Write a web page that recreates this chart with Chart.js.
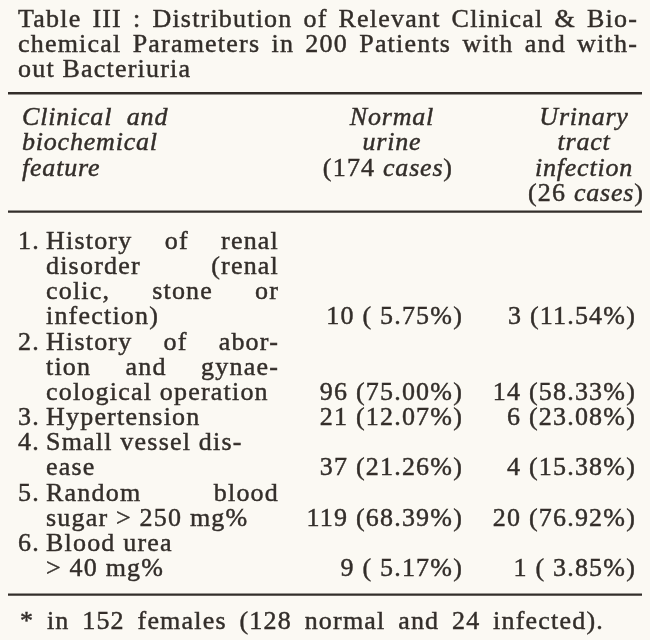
<!DOCTYPE html>
<html>
<head>
<meta charset="utf-8">
<script src="https://cdn.jsdelivr.net/npm/chart.js@4/dist/chart.umd.min.js"></script>
<style>
  html, body { margin: 0; padding: 0; background: #fbf9f3; }
  #tableChart { display: block; }
</style>
</head>
<body>
<canvas id="tableChart" width="650" height="640"></canvas>
<script>
// table text and values
const titleLines = [
    'Table III : Distribution of Relevant Clinical & Bio-',
    'chemical Parameters in 200 Patients with and with-',
    'out Bacteriuria',
];
const headFeature = ['Clinical  and', 'biochemical', 'feature'];
const headNormal = ['Normal', 'urine', '(174 cases)'];
const headUti = ['Urinary', 'tract', 'infection', '(26 cases)'];

const featureNo = ['1.', '2.', '3.', '4.', '5.', '6.'];
const featureLines = [
    ['History of renal', 'disorder (renal', 'colic, stone or', 'infection)'],
    ['History of abor-', 'tion and gynae-', 'cological operation'],
    ['Hypertension'],
    ['Small vessel dis-', 'ease'],
    ['Random blood', 'sugar > 250 mg%'],
    ['Blood urea', '> 40 mg%'],
];
const justifyRow = [true, true, false, false, true, false];

const normalCases = [10, 96, 21, 37, 119, 9];
const normalPct = [5.75, 75.00, 12.07, 21.26, 68.39, 5.17];
const utiCases = [3, 14, 6, 4, 20, 1];
const utiPct = [11.54, 58.33, 23.08, 15.38, 76.92, 3.85];

const footnote = '* in 152 females (128 normal and 24 infected).';

// layout (in line units on y, pixels on x)
const ink = '#332e2a';
const fontSize = 26;
const bodyStart = 8.8;
const col = { left: 18, noRight: 40, text: 46, textRight: 279, normal: 463, uti: 636, normalHead: 392, utiHead: 584, right: 640 };

// line index of the last text line of each row (where the values sit)
const rowEnd = [];
let acc = bodyStart;
featureLines.forEach(lines => {
    acc += lines.length;
    rowEnd.push(acc - 1);
});

function fmtCell(n, p) {
    const s = p.toFixed(2);
    return n + ' (' + (p < 10 ? ' ' : '') + s + '%)';
}

function setFont(ctx, italic) {
    ctx.font = (italic ? 'italic ' : '') + fontSize + 'px "Liberation Serif", "Times New Roman", serif';
    ctx.letterSpacing = italic ? '0.8px' : '1.2px';
}

// fill plus a hairline stroke, the scan's ink is heavy
function ink_text(ctx, t, x, y) {
    ctx.fillText(t, x, y);
    ctx.strokeText(t, x, y);
}

function drawJustified(ctx, text, x0, x1, y) {
    const words = text.split(/\s+/);
    const widths = words.map(w => ctx.measureText(w).width);
    const total = widths.reduce((a, b) => a + b, 0);
    const gap = (x1 - x0 - total) / (words.length - 1);
    let x = x0;
    ctx.textAlign = 'left';
    words.forEach((w, i) => {
        ink_text(ctx, w, x, y);
        x += widths[i] + gap;
    });
}

// draws "(174 cases)" with cases in italic
function drawCases(ctx, text, cx, y) {
    const m = text.match(/^\((\d+) (cases)\)$/);
    const segs = [['(' + m[1] + ' ', false], [m[2], true], [')', false]];
    let w = 0;
    segs.forEach(s => { setFont(ctx, s[1]); w += ctx.measureText(s[0]).width; });
    let x = cx - w / 2;
    ctx.textAlign = 'left';
    segs.forEach(s => {
        setFont(ctx, s[1]);
        ink_text(ctx, s[0], x, y);
        x += ctx.measureText(s[0]).width;
    });
}

const tablePlugin = {
    id: 'tableText',
    afterDatasetsDraw(chart) {
        const ctx = chart.ctx;
        const xs = chart.scales.x;
        const ys = chart.scales.y;
        const X = v => xs.getPixelForValue(v);
        const Y = v => ys.getPixelForValue(v);
        ctx.save();
        ctx.fillStyle = ink;
        ctx.strokeStyle = ink;
        ctx.textBaseline = 'middle';

        // rules
        [2.9, 7.6, 22.8].forEach(r => {
            ctx.lineWidth = 2.4;
            ctx.beginPath();
            ctx.moveTo(X(8), Y(r));
            ctx.lineTo(X(642), Y(r));
            ctx.stroke();
        });
        ctx.lineWidth = 0.45;

        // title
        setFont(ctx, false);
        titleLines.forEach((t, i) => {
            if (i < titleLines.length - 1) drawJustified(ctx, t, X(col.left), X(col.right - 2), Y(i));
            else { ctx.textAlign = 'left'; ink_text(ctx, t, X(col.left), Y(i)); }
        });

        // header
        setFont(ctx, true);
        ctx.textAlign = 'left';
        headFeature.forEach((t, i) => ink_text(ctx, t, X(col.left + 4), Y(3.9 + i)));
        headNormal.forEach((t, i) => {
            if (t.startsWith('(')) drawCases(ctx, t, X(col.normalHead - 4), Y(3.9 + i));
            else { setFont(ctx, true); ctx.textAlign = 'center'; ink_text(ctx, t, X(col.normalHead), Y(3.9 + i)); }
        });
        headUti.forEach((t, i) => {
            if (t.startsWith('(')) drawCases(ctx, t, X(col.utiHead + 2), Y(3.9 + i));
            else { setFont(ctx, true); ctx.textAlign = 'center'; ink_text(ctx, t, X(col.utiHead), Y(3.9 + i)); }
        });

        // feature column
        setFont(ctx, false);
        let line = bodyStart;
        featureLines.forEach((lines, r) => {
            ctx.textAlign = 'right';
            ink_text(ctx, featureNo[r], X(col.noRight), Y(line));
            lines.forEach((t, k) => {
                if (justifyRow[r] && k < lines.length - 1) drawJustified(ctx, t, X(col.text), X(col.textRight), Y(line + k));
                else { ctx.textAlign = 'left'; ink_text(ctx, t, X(col.text), Y(line + k)); }
            });
            line += lines.length;
        });

        // value cells, drawn at the scatter points
        ctx.textAlign = 'right';
        chart.data.datasets.forEach((ds, di) => {
            chart.getDatasetMeta(di).data.forEach((pt, i) => {
                ink_text(ctx, ds.cellText[i], pt.x, pt.y);
            });
        });

        // footnote
        ctx.textAlign = 'left';
        ctx.wordSpacing = '5px';
        ink_text(ctx, footnote, X(col.left + 2), Y(23.9));
        ctx.restore();
    }
};

new Chart(document.getElementById('tableChart'), {
    type: 'scatter',
    data: {
        datasets: [
            {
                label: 'Normal urine (174 cases)',
                data: normalCases.map((n, i) => ({ x: col.normal, y: rowEnd[i] })),
                cellText: normalCases.map((n, i) => fmtCell(n, normalPct[i])),
                pointRadius: 0,
            },
            {
                label: 'Urinary tract infection (26 cases)',
                data: utiCases.map((n, i) => ({ x: col.uti, y: rowEnd[i] })),
                cellText: utiCases.map((n, i) => fmtCell(n, utiPct[i])),
                pointRadius: 0,
            },
        ],
    },
    options: {
        responsive: false,
        animation: false,
        layout: { padding: 0 },
        plugins: { legend: { display: false }, tooltip: { enabled: false } },
        scales: {
            x: { type: 'linear', display: false, min: 0, max: 650 },
            y: { type: 'linear', display: false, reverse: true, min: -0.8, max: 24.6 },
        },
    },
    plugins: [tablePlugin],
});
</script>
</body>
</html>
